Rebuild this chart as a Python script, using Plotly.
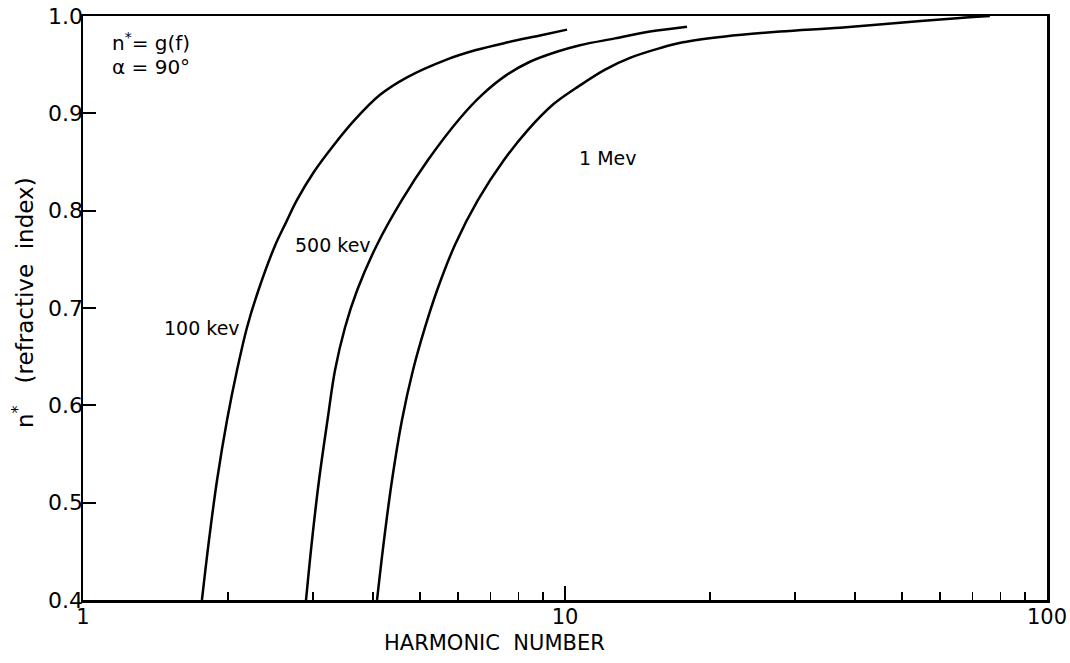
import numpy as np
import plotly.graph_objects as go

# Harmonic number (x) and refractive index n* (y)
h_100kev = [1.765, 1.825, 1.897, 1.990, 2.087, 2.189, 2.311, 2.507, 2.638, 2.780, 3.015, 3.309,
            3.658, 4.133, 4.701, 5.664, 6.537, 7.616, 8.874, 10.10]
n_100kev = [0.400, 0.461, 0.523, 0.585, 0.636, 0.680, 0.718, 0.765, 0.788, 0.811, 0.840, 0.867,
            0.893, 0.919, 0.937, 0.955, 0.965, 0.973, 0.980, 0.986]

h_500kev = [2.902, 2.986, 3.088, 3.216, 3.333, 3.496, 3.703, 4.074, 4.590, 5.196, 6.056, 6.727,
            7.544, 8.459, 9.580, 10.74, 12.70, 15.01, 17.91]
n_500kev = [0.400, 0.461, 0.523, 0.585, 0.636, 0.680, 0.718, 0.765, 0.811, 0.852, 0.895, 0.919,
            0.939, 0.953, 0.963, 0.970, 0.977, 0.984, 0.989]

h_1mev = [4.074, 4.211, 4.376, 4.590, 4.837, 5.123, 5.426, 5.913, 6.600, 7.470, 8.381, 9.443,
          10.54, 12.11, 13.64, 15.74, 17.57, 21.48, 27.93, 37.20, 49.55, 66.0, 76.1]
n_1mev = [0.400, 0.461, 0.523, 0.585, 0.636, 0.680, 0.718, 0.765, 0.811, 0.852, 0.883, 0.909,
          0.926, 0.945, 0.957, 0.967, 0.973, 0.979, 0.984, 0.988, 0.993, 0.998, 1.000]

x_major = [1, 10, 100]
x_major_text = ["1", "10", "100"]
x_minor = [2, 3, 4, 5, 6, 7, 8, 9, 20, 30, 40, 50, 60, 70, 80, 90]
y_ticks = [0.4, 0.5, 0.6, 0.7, 0.8, 0.9, 1.0]
y_text = ["0.4", "0.5", "0.6", "0.7", "0.8", "0.9", "1.0"]

FONT = "DejaVu Sans"
BLACK = "#000000"

W, H = 1070, 663
# plot-area edges in page pixels
PL, PR, PT, PB = 83, 1047, 16, 600
L, R, T, B = PL, W - PR, PT, H - PB
PW, PH = PR - PL, PB - PT


def px(xp):
    return (xp - PL) / PW


def py(yp):
    return 1 - (yp - PT) / PH


fig = go.Figure()
for h, n in [(h_100kev, n_100kev), (h_500kev, n_500kev), (h_1mev, n_1mev)]:
    fig.add_trace(go.Scatter(x=h, y=n, mode="lines",
                             line=dict(color=BLACK, width=2.5, shape="spline", smoothing=1.0),
                             showlegend=False, hoverinfo="skip"))

# invisible trace to anchor the minor-tick axis
fig.add_trace(go.Scatter(x=[1, 100], y=[0.4, 0.4], xaxis="x2", mode="lines",
                         line=dict(width=0, color="rgba(0,0,0,0)"),
                         showlegend=False, hoverinfo="skip"))

fig.update_layout(
    width=W, height=H,
    paper_bgcolor="white", plot_bgcolor="white",
    margin=dict(l=L, r=R, t=T, b=B, autoexpand=False),
    font=dict(family=FONT, color=BLACK, size=19),
    xaxis=dict(type="log", range=[0, 2], tickvals=x_major, ticktext=x_major_text,
               ticks="inside", ticklen=14, tickwidth=2, tickcolor=BLACK,
               showline=True, linewidth=2.5, linecolor=BLACK, mirror=True,
               showgrid=False, zeroline=False, ticklabelstandoff=-4, ticklabeloverflow="allow",
               tickfont=dict(family=FONT, size=21, color=BLACK)),
    xaxis2=dict(type="log", range=[0, 2], overlaying="x", side="bottom", tickvals=x_minor,
                showticklabels=False, ticks="inside", ticklen=8, tickwidth=1.5, tickcolor=BLACK,
                showline=False, showgrid=False, zeroline=False),
    yaxis=dict(range=[0.4, 1.0], tickvals=y_ticks, ticktext=y_text,
               ticks="inside", ticklen=13, tickwidth=2, tickcolor=BLACK,
               showline=True, linewidth=2.5, linecolor=BLACK, mirror=True,
               showgrid=False, zeroline=False, ticklabelstandoff=-7, ticklabeloverflow="allow",
               tickfont=dict(family=FONT, size=22, color=BLACK)),
)

ann = [
    dict(text="100 kev", x=np.log10(1.765), y=0.679),
    dict(text="500 kev", x=np.log10(3.30), y=0.765),
    dict(text="1 Mev", x=np.log10(12.28), y=0.854),
]
for a in ann:
    fig.add_annotation(xref="x", yref="y", showarrow=False, font=dict(family=FONT, size=19, color=BLACK), **a)

fig.add_annotation(text="n<sup>*</sup>= g(f)", xref="paper", yref="paper", x=px(110), y=py(42),
                   xanchor="left", yanchor="middle", showarrow=False, font=dict(family=FONT, size=20, color=BLACK))
fig.add_annotation(text="α = 90°", xref="paper", yref="paper", x=px(110), y=py(67),
                   xanchor="left", yanchor="middle", showarrow=False, font=dict(family=FONT, size=20, color=BLACK))
fig.add_annotation(text="HARMONIC  NUMBER", xref="paper", yref="paper", x=px(494), y=py(643),
                   xanchor="center", yanchor="middle", showarrow=False, font=dict(family=FONT, size=21, color=BLACK))
fig.add_annotation(text="n<sup>*</sup>   (refractive  index)", xref="paper", yref="paper", x=px(23),
                   y=py(303), xanchor="center", yanchor="middle", textangle=-90, showarrow=False,
                   font=dict(family=FONT, size=23, color=BLACK))

# remove the default page margin so the 1070x663 figure fills the window exactly
fig.write_html("out.html", config={"displayModeBar": False, "staticPlot": True},
               post_script="document.body.style.margin='0';document.body.style.overflow='hidden';")
